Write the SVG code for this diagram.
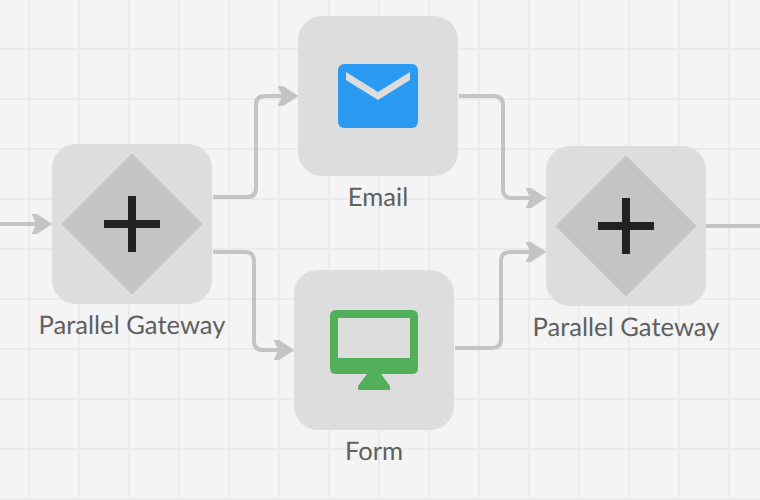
<svg xmlns="http://www.w3.org/2000/svg" width="760" height="500" viewBox="0 0 760 500">
<style>
.grid{stroke:#ebebeb;stroke-width:2;fill:none}
.box{fill:#dddddd}
.dia{fill:#c4c4c4}
.plus{fill:#222222}
.lbl{font-family:Lato,"Open Sans",sans-serif;font-size:25.6px;fill:#5c5c5c;text-anchor:middle;text-rendering:geometricPrecision;opacity:.97}
.c{fill:none;stroke:#c4c4c4;stroke-width:4}
.a{fill:#c4c4c4}
</style>
<defs>
<g id="ah"><path class="a" d="M-20.500 -10L-15 -10L0.500 0L-15 10L-20.500 10L-16.500 2L-24 2L-24 -2L-16.500 -2Z"/></g>
</defs>
<rect width="760" height="500" fill="#f4f4f4"/>
<path class="grid" d="M29 0V500M79 0V500M129 0V500M179 0V500M229 0V500M279 0V500M329 0V500M379 0V500M429 0V500M479 0V500M529 0V500M579 0V500M629 0V500M679 0V500M729 0V500M0 49H760M0 99H760M0 149H760M0 199H760M0 249H760M0 299H760M0 349H760M0 399H760M0 449H760M0 499H760"/>
<g id="connectors">
<path class="c" d="M0 224H36"/><use href="#ah" x="52" y="224"/>
<path class="c" d="M213 197H247Q256 197 256 188V105Q256 96 265 96H284"/><use href="#ah" x="298" y="96"/>
<path class="c" d="M213 252H245Q254 252 254 261V341Q254 350 263 350H280"/><use href="#ah" x="294" y="350"/>
<path class="c" d="M459 96H494Q503 96 503 105V189Q503 198 512 198H532"/><use href="#ah" x="546" y="198"/>
<path class="c" d="M455 348H492Q501 348 501 339V261Q501 252 510 252H532"/><use href="#ah" x="546" y="252"/>
<path class="c" d="M706 226H760"/>
</g>
<g id="gateway-1"><rect class="box" x="52" y="144" width="160" height="160" rx="24"/><path class="dia" d="M132 153.500L202.500 224L132 294.500L61.500 224Z"/><path class="plus" d="M128 196H136V220H160V228H136V252H128V228H104V220H128Z"/><text class="lbl" x="132" y="334">Parallel Gateway</text></g>
<g id="email"><rect class="box" x="298" y="16" width="160" height="160" rx="24"/><rect x="338" y="64" width="80" height="64" rx="6" fill="#2b9af3"/><path fill="#dddddd" d="M346 72L378 92L410 72V80L378 100L346 80Z"/><text class="lbl" x="378" y="206">Email</text></g>
<g id="form"><rect class="box" x="294" y="270" width="160" height="160" rx="24"/><path fill="#52b05a" fill-rule="evenodd" d="M336 310H412Q418 310 418 316V368Q418 374 412 374H381L390 386V390H358V386L367 374H336Q330 374 330 368V316Q330 310 336 310ZM338 318V358H410V318Z"/><text class="lbl" x="374" y="460">Form</text></g>
<g id="gateway-2"><rect class="box" x="546" y="146" width="160" height="160" rx="24"/><path class="dia" d="M626 155.500L696.500 226L626 296.500L555.500 226Z"/><path class="plus" d="M622 198H630V222H654V230H630V254H622V230H598V222H622Z"/><text class="lbl" x="626" y="336">Parallel Gateway</text></g>
</svg>
